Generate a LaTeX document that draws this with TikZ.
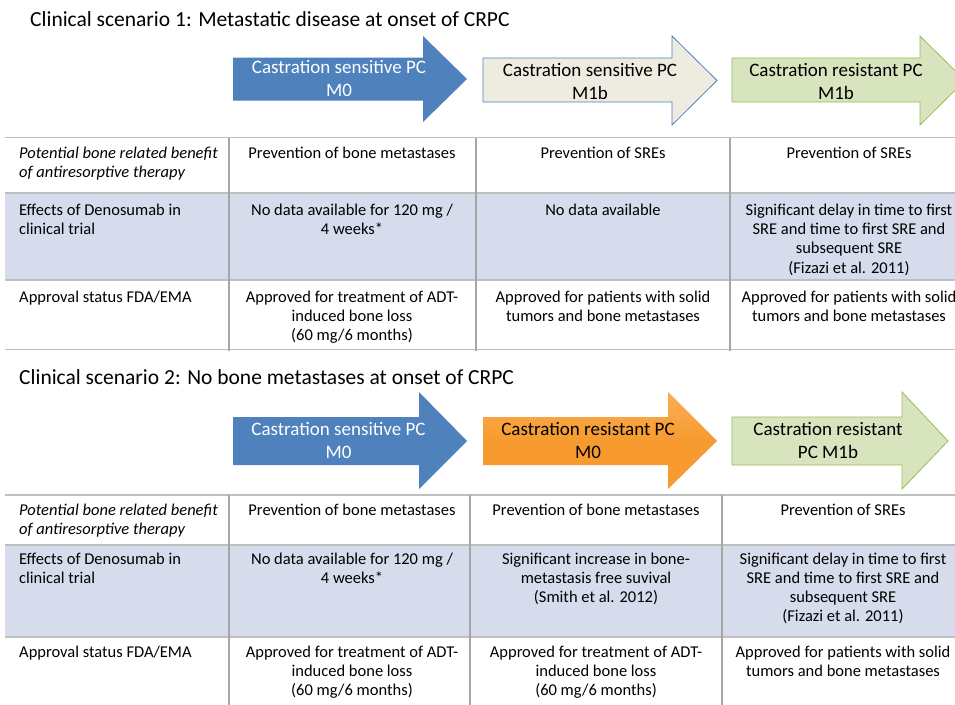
\documentclass[tikz,border=0pt]{standalone}
\usepackage{fontspec}
\setmainfont{Carlito}
\definecolor{blueA}{HTML}{4F81BD}
\definecolor{beigeA}{HTML}{EEECE1}
\definecolor{greenA}{HTML}{D7E4BD}
\definecolor{greenL}{HTML}{9BBB59}
\definecolor{orangeA}{HTML}{F79B30}
\definecolor{orangeL}{HTML}{F9AE55}
\definecolor{rowfill}{HTML}{D6DCEC}
\definecolor{hgray}{HTML}{BFBFBF}
\definecolor{vgray}{HTML}{A6A6A6}
\begin{document}
\begin{tikzpicture}[x=1pt,y=-1pt,
  cell/.style={anchor=north, inner sep=0pt, align=center, font=\fontsize{16.5}{19.3}\selectfont},
  lcell/.style={anchor=north west, inner sep=0pt, align=left, font=\fontsize{16.5}{19.3}\selectfont},
  arrtext/.style={anchor=north, inner sep=0pt, align=center, font=\fontsize{19}{23}\selectfont},
  titletext/.style={anchor=base west, inner sep=0pt, font=\fontsize{21.5}{26}\selectfont},
  hline/.style={draw=hgray, line width=1.5pt},
  vline/.style={draw=vgray, line width=1.5pt},
  bluearr/.style={fill=blueA, draw=none},
  beigearr/.style={fill=beigeA, draw=blueA, line width=0.8pt},
  greenarr/.style={fill=greenA, draw=greenL, line width=0.8pt},
  orangearr/.style={top color=orangeL, bottom color=orangeA, middle color=orangeA, draw=none}]
\clip (0,0) rectangle (955,704);
\fill[white] (0,0) rectangle (955,704);

% ---------- Scenario 1 ----------
\node[titletext] (t1) at (30,26) {Clinical scenario 1: Metastatic disease at onset of CRPC};

\path[bluearr] (233,57.5) -- (423,57.5) -- (423,36) -- (467,79) -- (423,122) -- (423,100.5) -- (233,100.5) -- cycle;
\node[arrtext, text=white] (a1) at (339,57.4) {\strut Castration sensitive PC\\M0};
\path[beigearr] (483,58) -- (672,58) -- (672,36) -- (717,80.5) -- (672,125) -- (672,102) -- (483,102) -- cycle;
\node[arrtext] (a2) at (590,59.9) {\strut Castration sensitive PC\\M1b};
\path[greenarr] (732,58) -- (920,58) -- (920,36) -- (965,80.5) -- (920,125) -- (920,102) -- (732,102) -- cycle;
\node[arrtext] (a3) at (836,59.9) {\strut Castration resistant PC\\M1b};

% table 1
\fill[rowfill] (5,193) rectangle (960,280);
\draw[hline] (5,137.5) -- (960,137.5);
\draw[hline] (5,193) -- (960,193);
\draw[hline] (5,280) -- (960,280);
\draw[hline] (5,349.5) -- (960,349.5);
\draw[vline] (229,137.5) -- (229,351);
\draw[vline] (476,137.5) -- (476,351);
\draw[vline] (730,137.5) -- (730,351);

\node[lcell] (p1a) at (19,144.3) {\strut\itshape Potential bone related benefit\\\itshape of antiresorptive therapy};
\node[cell] (p1b) at (352,144.3) {\strut Prevention of bone metastases};
\node[cell] (p1c) at (603,144.3) {\strut Prevention of SREs};
\node[cell] (p1d) at (849,144.3) {\strut Prevention of SREs};

\node[lcell] (e1a) at (19,201.5) {\strut Effects of Denosumab in\\clinical trial};
\node[cell] (e1b) at (352,201.5) {\strut No data available for 120 mg /\\4 weeks*};
\node[cell] (e1c) at (603,201.5) {\strut No data available};
\node[cell] (e1d) at (849,201.5) {\strut Significant delay in time to first\\SRE and time to first SRE and\\subsequent SRE\\(Fizazi et al. 2011)};

\node[lcell] (s1a) at (19,288.5) {\strut Approval status FDA/EMA};
\node[cell] (s1b) at (352,288.5) {\strut Approved for treatment of ADT-\\induced bone loss\\(60 mg/6 months)};
\node[cell] (s1c) at (603,288.5) {\strut Approved for patients with solid\\tumors and bone metastases};
\node[cell] (s1d) at (849,288.5) {\strut Approved for patients with solid\\tumors and bone metastases};

% ---------- Scenario 2 ----------
\node[titletext] (t2) at (19,384.5) {Clinical scenario 2: No bone metastases at onset of CRPC};

\path[bluearr] (233,417) -- (419,417) -- (419,392) -- (467,441) -- (419,489) -- (419,465) -- (233,465) -- cycle;
\node[arrtext, text=white] (b1) at (338.5,418.9) {\strut Castration sensitive PC\\M0};
\path[orangearr] (483,417) -- (668,417) -- (668,392) -- (717,441) -- (668,489) -- (668,465) -- (483,465) -- cycle;
\node[arrtext] (b2) at (588,418.9) {\strut Castration resistant PC\\M0};
\path[greenarr] (732,417) -- (902,417) -- (902,392) -- (948,441) -- (902,489) -- (902,465) -- (732,465) -- cycle;
\node[arrtext] (b3) at (828,418.9) {\strut Castration resistant\\PC M1b};

% table 2
\fill[rowfill] (5,545) rectangle (960,637);
\draw[hline] (5,495) -- (960,495);
\draw[hline] (5,545) -- (960,545);
\draw[hline] (5,637) -- (960,637);
\draw[vline] (229,495) -- (229,710);
\draw[vline] (470,495) -- (470,710);
\draw[vline] (722,495) -- (722,710);

\node[lcell] (p2a) at (19,501.3) {\strut\itshape Potential bone related benefit\\\itshape of antiresorptive therapy};
\node[cell] (p2b) at (352,501.3) {\strut Prevention of bone metastases};
\node[cell] (p2c) at (596,501.3) {\strut Prevention of bone metastases};
\node[cell] (p2d) at (843,501.3) {\strut Prevention of SREs};

\node[lcell] (e2a) at (19,550.3) {\strut Effects of Denosumab in\\clinical trial};
\node[cell] (e2b) at (352,550.3) {\strut No data available for 120 mg /\\4 weeks*};
\node[cell] (e2c) at (596,550.3) {\strut Significant increase in bone-\\metastasis free suvival\\(Smith et al. 2012)};
\node[cell] (e2d) at (843,550.3) {\strut Significant delay in time to first\\SRE and time to first SRE and\\subsequent SRE\\(Fizazi et al. 2011)};

\node[lcell] (s2a) at (19,643.3) {\strut Approval status FDA/EMA};
\node[cell] (s2b) at (352,643.3) {\strut Approved for treatment of ADT-\\induced bone loss\\(60 mg/6 months)};
\node[cell] (s2c) at (596,643.3) {\strut Approved for treatment of ADT-\\induced bone loss\\(60 mg/6 months)};
\node[cell] (s2d) at (843,643.3) {\strut Approved for patients with solid\\tumors and bone metastases};
\end{tikzpicture}
\end{document}
